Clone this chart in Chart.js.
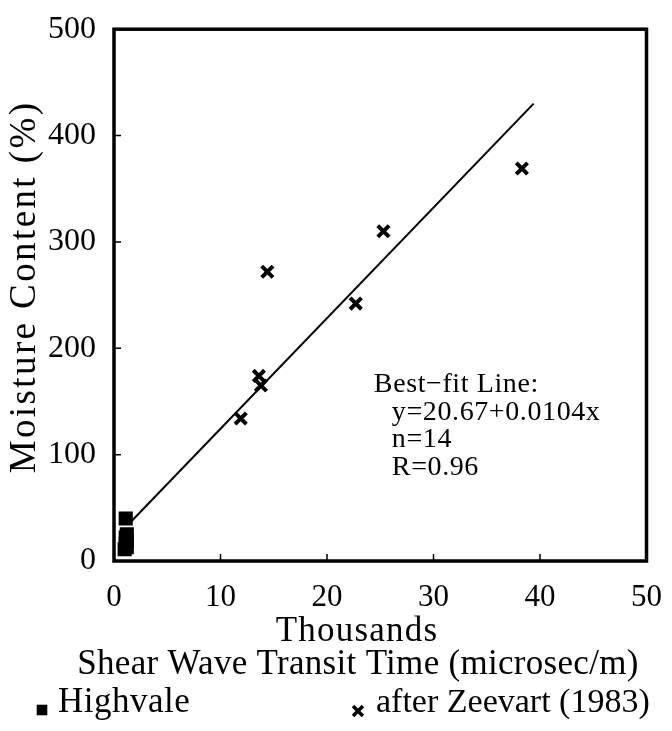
<!DOCTYPE html>
<html>
<head>
<meta charset="utf-8">
<script src="https://cdn.jsdelivr.net/npm/chart.js@4.4.1/dist/chart.umd.min.js"></script>
<style>
  html, body { margin: 0; padding: 0; background: #fff; }
</style>
</head>
<body>
<canvas id="chart" width="672" height="731"></canvas>
<script>
// values (x in thousands of microsec/m, y in %)
const highvaleX = [1.1, 1.2, 1.1, 1.2, 1.1, 1.2, 1.0];
const highvaleY = [40, 25, 22, 19, 16, 13, 11];
const zeevartX = [11.9, 13.6, 13.8, 14.4, 22.7, 25.3, 38.3];
const zeevartY = [134, 174, 165, 272, 242, 310, 369];
const fitX = [1.5, 39.4];
const fitY = [36, 430];
const xTicks = [10, 20, 30, 40];
const yTicks = [100, 200, 300, 400];
const xTitle = ["Thousands", "Shear Wave Transit Time (microsec/m)"];
const yTitle = "Moisture Content (%)";
const fitText = ["Best\u2212fit Line:", "y=20.67+0.0104x", "n=14", "R=0.96"];

const serif = "'Liberation Serif', 'Times New Roman', serif";

const toPoints = (xs, ys) => xs.map((x, i) => ({ x, y: ys[i] }));

function spacedText(ctx, text, x, y, size, spacing, align) {
  ctx.font = size + "px " + serif;
  ctx.letterSpacing = spacing + "px";
  ctx.textAlign = align || "left";
  ctx.fillText(text, x, y);
  ctx.letterSpacing = "0px";
}

// box round the plot, inward ticks, titles, note and legend
const frameTicks = {
  id: "frameTicks",
  afterDatasetsDraw(chart) {
    const { ctx, chartArea: a, scales: { x, y } } = chart;
    ctx.save();
    ctx.strokeStyle = "#000";
    ctx.fillStyle = "#000";
    ctx.lineWidth = 1.5;
    ctx.beginPath();
    xTicks.forEach((v) => {
      const px = x.getPixelForValue(v);
      ctx.moveTo(px, a.bottom);
      ctx.lineTo(px, a.bottom - 7);
    });
    yTicks.forEach((v) => {
      const py = y.getPixelForValue(v);
      ctx.moveTo(a.left, py);
      ctx.lineTo(a.left + 7, py);
    });
    ctx.stroke();
    ctx.lineWidth = 3.5;
    ctx.strokeRect(a.left, a.top, a.right - a.left, a.bottom - a.top);

    ctx.textBaseline = "middle";
    // x title, two lines
    spacedText(ctx, xTitle[0], 357, 632, 35, 1.2, "center");
    spacedText(ctx, xTitle[1], 358, 665, 35, 0.3, "center");
    // y title, rotated
    ctx.save();
    ctx.translate(25, 287);
    ctx.rotate(-Math.PI / 2);
    spacedText(ctx, yTitle, 0, 0, 37, 2.4, "center");
    ctx.restore();

    // fit note, anchored in data units
    ctx.textBaseline = "alphabetic";
    const nx = x.getPixelForValue(24.4);
    let ny = y.getPixelForValue(158.5);
    fitText.forEach((t, i) => {
      spacedText(ctx, t, nx + (i ? 18 : 0), ny, 28, 0.6, "left");
      ny += 27.5;
    });

    // legend
    const ds = chart.data.datasets;
    ctx.textBaseline = "middle";
    Chart.helpers.drawPoint(ctx, { pointStyle: ds[0].pointStyle, radius: 7.5, borderWidth: 0 }, 42, 710);
    spacedText(ctx, ds[0].label, 58, 703, 35, 0.5, "left");
    ctx.lineWidth = 3.5;
    Chart.helpers.drawPoint(ctx, { pointStyle: ds[1].pointStyle, radius: 7, borderWidth: 3.5 }, 358, 711);
    spacedText(ctx, ds[1].label, 376, 703, 34, 0, "left");
    ctx.restore();
  },
};

new Chart(document.getElementById("chart"), {
  type: "scatter",
  data: {
    datasets: [
      {
        label: "Highvale",
        data: toPoints(highvaleX, highvaleY),
        pointStyle: "rect",
        pointRadius: 10,
        pointBackgroundColor: "#000",
        pointBorderColor: "#000",
        pointBorderWidth: 0,
      },
      {
        label: "after Zeevart (1983)",
        data: toPoints(zeevartX, zeevartY),
        pointStyle: "crossRot",
        pointRadius: 8,
        pointBorderColor: "#000",
        pointBorderWidth: 4,
      },
      {
        label: "fit",
        type: "line",
        data: toPoints(fitX, fitY),
        borderColor: "#000",
        borderWidth: 2,
        pointRadius: 0,
        fill: false,
      },
    ],
  },
  options: {
    responsive: false,
    animation: false,
    layout: { padding: { top: 22, right: 19, left: 0, bottom: 54 } },
    plugins: {
      tooltip: { enabled: false },
      legend: { display: false },
    },
    scales: {
      x: {
        type: "linear",
        min: 0,
        max: 50,
        border: { display: false },
        grid: { display: false },
        afterFit: (s) => { s.height = 116; },
        ticks: {
          stepSize: 10,
          color: "#000",
          padding: 10,
          font: { family: serif, size: 31 },
        },
      },
      y: {
        min: 0,
        max: 500,
        border: { display: false },
        grid: { display: false },
        afterFit: (s) => { s.width = 114; },
        ticks: {
          stepSize: 100,
          color: "#000",
          padding: 10,
          font: { family: serif, size: 32 },
        },
      },
    },
  },
  plugins: [frameTicks],
});
</script>
</body>
</html>
